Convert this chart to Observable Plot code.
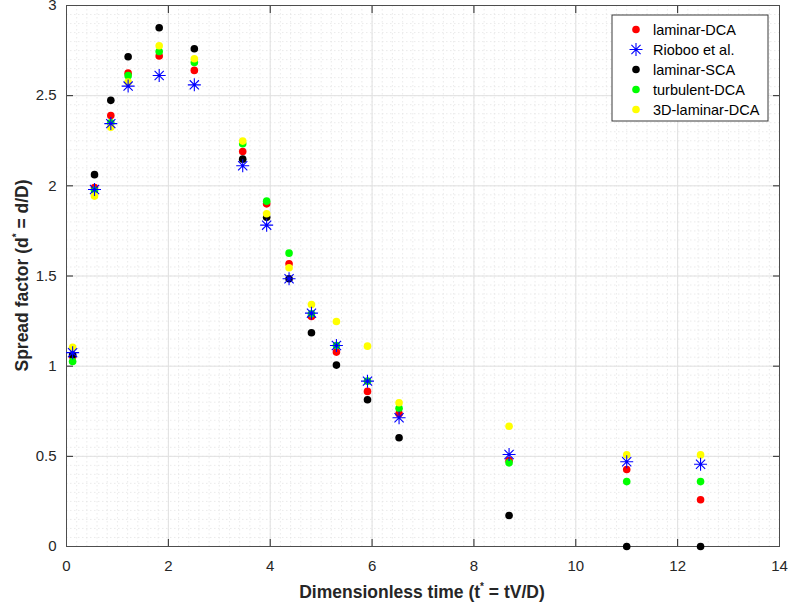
<!DOCTYPE html>
<html><head><meta charset="utf-8">
<script src="https://cdn.jsdelivr.net/npm/d3@7"></script>
<script src="https://cdn.jsdelivr.net/npm/@observablehq/plot@0.6"></script>
<style>
body{margin:0;background:#fff}
#chart svg{font-family:"Liberation Sans",Arial,sans-serif;background:#fff}
</style>
</head><body><div id="chart"></div>
<script>
// Dimensionless time t* = tV/D
const tStar = [0.12, 0.55, 0.87, 1.21, 1.82, 2.51, 3.46, 3.93, 4.37, 4.81, 5.30, 5.91, 6.53, 8.69, 11.0, 12.45];
// Spread factor d* = d/D per series
const laminarDCA   = [1.055, 1.99, 2.39, 2.625, 2.72, 2.64, 2.19, 1.90, 1.568, 1.276, 1.078, 0.86, 0.736, 0.477, 0.427, 0.259];
const rioboo       = [1.075, 1.98, 2.345, 2.553, 2.612, 2.56, 2.111, 1.782, 1.485, 1.294, 1.115, 0.917, 0.714, 0.51, 0.47, 0.456];
const laminarSCA   = [1.063, 2.062, 2.474, 2.716, 2.877, 2.76, 2.148, 1.826, 1.485, 1.185, 1.006, 0.814, 0.603, 0.172, 0, 0];
const turbulentDCA = [1.026, 1.975, 2.35, 2.611, 2.745, 2.684, 2.233, 1.915, 1.627, 1.29, 1.115, 0.917, 0.766, 0.464, 0.36, 0.36];
const laminar3DDCA = [1.105, 1.943, 2.325, 2.575, 2.777, 2.705, 2.248, 1.845, 1.546, 1.342, 1.248, 1.111, 0.797, 0.667, 0.508, 0.508];

const seriesNames  = ["laminar-DCA", "Rioboo et al.", "laminar-SCA", "turbulent-DCA", "3D-laminar-DCA"];
const seriesValues = [laminarDCA, rioboo, laminarSCA, turbulentDCA, laminar3DDCA];
const seriesColors = ["#ff0000", "#0000ff", "#000000", "#00ff00", "#ffff00"];
const drawOrder    = ["laminar-DCA", "laminar-SCA", "turbulent-DCA", "3D-laminar-DCA", "Rioboo et al."];

const xTicks = [0, 2, 4, 6, 8, 10, 12, 14];
const yTicks = [0, 0.5, 1, 1.5, 2, 2.5, 3];
const yTickLabels = ["0", "0.5", "1", "1.5", "2", "2.5", "3"];
const xMinor = d3.range(0, 14.0001, 0.2);
const yMinor = d3.range(0, 3.0001, 0.05);

const rows = [];
seriesNames.forEach((name, i) => tStar.forEach((t, j) => rows.push({series: name, t, d: seriesValues[i][j]})));

const star8 = {draw(ctx, size) {
  const r = Math.sqrt(size / Math.PI);
  for (let i = 0; i < 4; i++) {
    const a = i * Math.PI / 4, dx = r * Math.cos(a), dy = r * Math.sin(a);
    ctx.moveTo(-dx, -dy); ctx.lineTo(dx, dy);
  }
}};

const colorOf = Object.fromEntries(seriesNames.map((n, i) => [n, seriesColors[i]]));
const dotMarks = drawOrder.map(name => {
  const data = rows.filter(r => r.series === name);
  if (name === "Rioboo et al.") {
    return Plot.dot(data, {x: "t", y: "d", symbol: star8, r: 6.5, stroke: colorOf[name], strokeWidth: 1.1, fill: "none"});
  }
  return Plot.dot(data, {x: "t", y: "d", r: 3.8, fill: colorOf[name], stroke: "none"});
});

const chart = Plot.plot({
  width: 789, height: 609,
  marginLeft: 66, marginRight: 10, marginTop: 5, marginBottom: 63,
  x: {domain: [0, 14]},
  y: {domain: [0, 3]},
  style: {fontFamily: "Liberation Sans, Arial, sans-serif", fontSize: "15px", color: "#262626", background: "#fff"},
  marks: [
    Plot.ruleX(xMinor, {stroke: "#e2e2e2", strokeWidth: 0.7, strokeDasharray: "1.5,2.5"}),
    Plot.ruleY(yMinor, {stroke: "#e2e2e2", strokeWidth: 0.7, strokeDasharray: "1.5,2.5"}),
    Plot.ruleX(xTicks, {stroke: "#e0e0e0", strokeWidth: 1}),
    Plot.ruleY(yTicks, {stroke: "#e0e0e0", strokeWidth: 1}),
    Plot.axisX(xTicks, {anchor: "bottom", tickSize: -7, tickPadding: 21, label: null, fontSize: 15, tickFormat: d => String(d)}),
    Plot.axisX(xTicks, {anchor: "top", tickSize: -7, tickFormat: () => "", label: null}),
    Plot.axisY(yTicks, {anchor: "left", tickSize: -7, tickPadding: 17, label: null, fontSize: 15, tickFormat: (d, i) => yTickLabels[i]}),
    Plot.axisY(yTicks, {anchor: "right", tickSize: -7, tickFormat: () => "", label: null}),
    Plot.frame({stroke: "#4d4d4d", strokeWidth: 1}),
    ...dotMarks
  ]
});

document.getElementById("chart").appendChild(chart);

// axis titles with superscript asterisks
const svg = d3.select(chart);
const xl = svg.append("text")
  .attr("x", 422).attr("y", 598)
  .attr("text-anchor", "middle")
  .attr("font-size", 17.5).attr("font-weight", "bold").attr("fill", "#262626");
xl.append("tspan").text("Dimensionless time (t");
xl.append("tspan").text("*").attr("font-size", 10).attr("dy", -8);
xl.append("tspan").text(" = tV/D)").attr("dy", 8);

const yl = svg.append("text")
  .attr("transform", "translate(28,275.5) rotate(-90)")
  .attr("text-anchor", "middle")
  .attr("font-size", 17.5).attr("font-weight", "bold").attr("fill", "#262626");
yl.append("tspan").text("Spread factor (d");
yl.append("tspan").text("*").attr("font-size", 10).attr("dy", -8);
yl.append("tspan").text(" = d/D)").attr("dy", 8);

// legend
const lg = svg.append("g");
lg.append("rect").attr("x", 612).attr("y", 15).attr("width", 156).attr("height", 106)
  .attr("fill", "#fff").attr("stroke", "#3a3a3a").attr("stroke-width", 1);
seriesNames.forEach((name, i) => {
  const cy = 29.5 + i * 20;
  if (name === "Rioboo et al.") {
    lg.append("path").attr("transform", `translate(636,${cy})`)
      .attr("d", d3.symbol(star8, Math.PI * 6.5 * 6.5)())
      .attr("stroke", colorOf[name]).attr("stroke-width", 1.1).attr("fill", "none");
  } else {
    lg.append("circle").attr("cx", 636).attr("cy", cy).attr("r", 3.8).attr("fill", colorOf[name]);
  }
  lg.append("text").attr("x", 653).attr("y", cy).attr("dy", "0.35em")
    .attr("text-anchor", "start")
    .attr("font-size", 14.5).attr("fill", "#000").text(name);
});
</script>
</body></html>
